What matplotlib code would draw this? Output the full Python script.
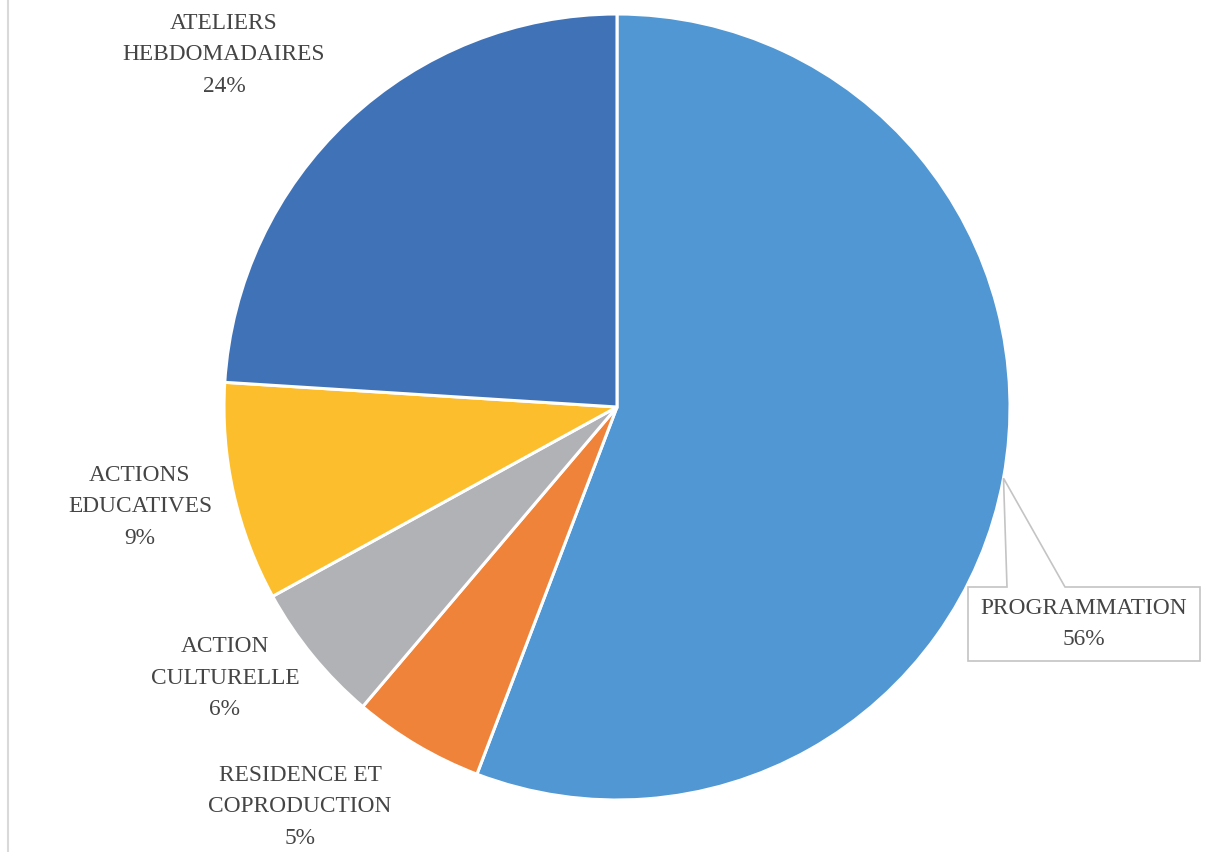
import numpy as np
import matplotlib
matplotlib.use("Agg")
import matplotlib.pyplot as plt
from matplotlib.lines import Line2D
from matplotlib.patches import Polygon

# Data (clockwise from 12 o'clock)
labels = ["PROGRAMMATION", "RESIDENCE ET\nCOPRODUCTION", "ACTION\nCULTURELLE",
          "ACTIONS\nEDUCATIVES", "ATELIERS\nHEBDOMADAIRES"]
values = [55.8, 5.4, 5.8, 9.0, 24.0]
colors = ["#5097D3", "#F0833A", "#B1B2B5", "#FCBE2C", "#4072B8"]

W, H = 1208, 853
cx, cy, R = 617, 408, 393   # pie centre / radius in pixels

fig = plt.figure(figsize=(W / 100, H / 100), dpi=100)
ax = fig.add_axes([0, 0, 1, 1])

wedges, _ = ax.pie(values, colors=colors, startangle=90, counterclock=False,
                   radius=1.0, wedgeprops=dict(edgecolor="white", linewidth=2.2))

ax.set_aspect("auto")
ax.set_xlim(-cx / R, (W - cx) / R)
ax.set_ylim(-(H - cy) / R, cy / R)
ax.axis("off")

txt_color = "#454545"
font = dict(family=["Liberation Serif", "DejaVu Serif"], fontsize=16.8,
            color=txt_color, ha="center", va="center", linespacing=1.68)

def px(x, y):
    return ((x - cx) / R, (cy - y) / R)

# label centres in pixels for the four outer labels
label_pos = {1: (300, 807), 2: (225, 678), 3: (140, 507), 4: (224, 55)}
for i, (x, y) in label_pos.items():
    t = f"{labels[i]}\n{round(values[i]):d}%"
    ax.text(*px(x, y), t, **font)

# callout for PROGRAMMATION
w0 = wedges[0]
mid = np.deg2rad((w0.theta1 + w0.theta2) / 2)
ax_, ay_ = np.cos(mid), np.sin(mid)
bx0, bx1 = px(968, 0)[0], px(1200, 0)[0]
by0, by1 = px(0, 662)[1], px(0, 588)[1]
p1 = px(1007, 588)[0]
p2 = px(1065, 588)[0]
shape = [(bx0, by0), (bx0, by1), (p1, by1), (ax_, ay_), (p2, by1),
         (bx1, by1), (bx1, by0)]
ax.add_patch(Polygon(shape, closed=True, facecolor="white",
                     edgecolor="#c4c4c4", linewidth=1.2, zorder=3))
ax.text((bx0 + bx1) / 2, (by0 + by1) / 2 + 1 / R,
        f"{labels[0]}\n{round(values[0]):d}%", zorder=4, **font)

# faint frame line on the left
fig.add_artist(Line2D([8 / W, 8 / W], [0, 1], color="#d9d9d9", linewidth=1.5))

fig.savefig("out.png", dpi=100, facecolor="white")
